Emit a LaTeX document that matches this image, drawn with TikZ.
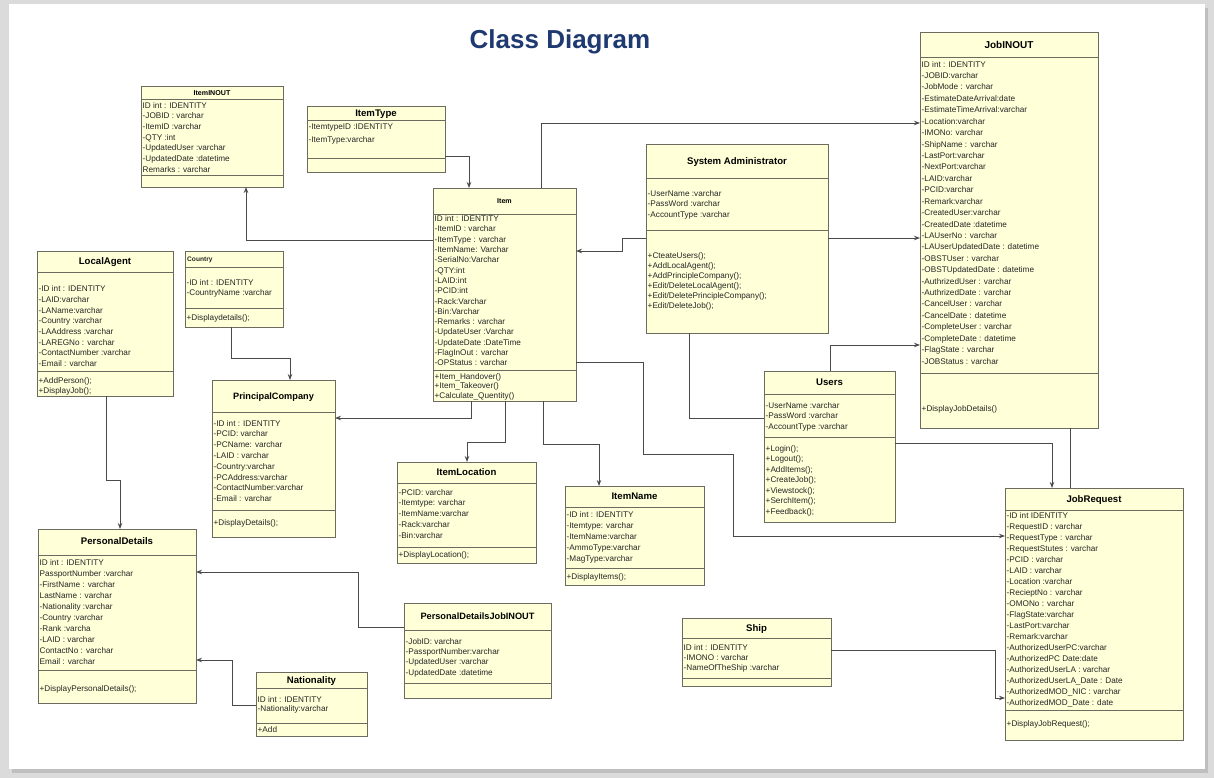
\documentclass[tikz,border=0pt]{standalone}
\usepackage{fontspec}
\setmainfont{Liberation Sans}
\usetikzlibrary{arrows.meta}
\definecolor{boxfill}{HTML}{FFFFD8}
\definecolor{boxline}{HTML}{6B6B60}
\definecolor{connc}{HTML}{4A4A4A}
\definecolor{ttlblue}{HTML}{1F3A70}
\tikzset{
 cls/.style={draw=boxline, fill=boxfill, line width=0.9pt, anchor=north west, inner sep=0pt, outer sep=0pt},
 clsline/.style={draw=boxline, line width=0.9pt},
 attr/.style={anchor=north west, align=left, inner sep=0pt, text=black!85},
 ttl/.style={anchor=base, inner sep=0pt},
 link/.style={draw=connc, line width=0.9pt},
 arr/.style={link, -{Stealth[length=6pt,width=4.5pt]}},
}
\newcommand{\umlbox}[6]{%
 \node[cls, minimum width=#4-#2, minimum height=#5-#3] (#1) at (#2,#3) {};
 \draw[clsline] (#1.west |- 0,#6) -- (#1.east |- 0,#6);}
\newcommand{\umlsep}[2]{\draw[clsline] (#1.west |- 0,#2) -- (#1.east |- 0,#2);}
\newcommand{\umltext}[5]{%
 \node[attr, font=\fontsize{8.2}{#4}\selectfont] (#1) at (#2+1.5,#3-3) {#5};}
\newcommand{\umltitle}[5]{%
 \node[ttl, font=\bfseries\fontsize{#4}{#4}\selectfont] (#1) at (#2,#3+0.36*#4) {#5};}
\begin{document}
\begin{tikzpicture}[x=1pt,y=-1pt]
\useasboundingbox (0,0) rectangle (1214,778);
\fill[gray!28] (0,0) rectangle (1214,778);
\fill[gray!50] (12,8) rectangle (1208,773);
\fill[white] (9,4) rectangle (1205,769);
\node[ttl, font=\bfseries\fontsize{26}{26}\selectfont, text=ttlblue] (title) at (560,40+9) {Class Diagram};

% ItemINOUT
\umlbox{iteminout}{141}{86}{283}{187}{99}
\umlsep{iteminout}{175}
\umltitle{iteminout-t}{212}{92.5}{7.1}{ItemINOUT}
\umltext{iteminout-a}{141}{105}{10.7}{ID int : IDENTITY\\-JOBID : varchar\\-ItemID :varchar\\-QTY :int\\-UpdatedUser :varchar\\-UpdatedDate :datetime\\Remarks : varchar}

% ItemType
\umlbox{itemtype}{307}{106}{445}{172}{120}
\umlsep{itemtype}{158}
\umltitle{itemtype-t}{376}{113}{9.6}{ItemType}
\umltext{itemtype-a}{307}{127}{12.5}{-ItemtypeID :IDENTITY\\-ItemType:varchar}

% Item
\umlbox{item}{433}{188}{576}{401}{214}
\umlsep{item}{370}
\umltitle{item-t}{504.5}{201}{7.1}{Item}
\umltext{item-a}{433}{218.5}{10.3}{ID int : IDENTITY\\-ItemID : varchar\\-ItemType : varchar\\-ItemName: Varchar\\-SerialNo:Varchar\\-QTY:int\\-LAID:int\\-PCID:int\\-Rack:Varchar\\-Bin:Varchar\\-Remarks : varchar\\-UpdateUser :Varchar\\-UpdateDate :DateTime\\-FlagInOut : varchar\\-OPStatus : varchar}
\umltext{item-m}{433}{376}{9.7}{+Item\_Handover()\\+Item\_Takeover()\\+Calculate\_Quentity()}

% System Administrator
\umlbox{sysadm}{646}{144}{828}{333}{178}
\umlsep{sysadm}{230}
\umltitle{sysadm-t}{737}{161}{9.6}{System Administrator}
\umltext{sysadm-a}{646}{193}{10.5}{-UserName :varchar\\-PassWord :varchar\\-AccountType :varchar}
\umltext{sysadm-m}{646}{255}{10}{+CteateUsers();\\+AddLocalAgent();\\+AddPrincipleCompany();\\+Edit/DeleteLocalAgent();\\+Edit/DeletePrincipleCompany();\\+Edit/DeleteJob();}

% JobINOUT
\umlbox{jobinout}{920}{32}{1098}{428}{57}
\umlsep{jobinout}{373}
\umltitle{jobinout-t}{1009}{44.5}{10}{JobINOUT}
\umltext{jobinout-a}{920}{64}{11.42}{ID int : IDENTITY\\-JOBID:varchar\\-JobMode : varchar\\-EstimateDateArrival:date\\-EstimateTimeArrival:varchar\\-Location:varchar\\-IMONo: varchar\\-ShipName : varchar\\-LastPort:varchar\\-NextPort:varchar\\-LAID:varchar\\-PCID:varchar\\-Remark:varchar\\-CreatedUser:varchar\\-CreatedDate :datetime\\-LAUserNo : varchar\\-LAUserUpdatedDate : datetime\\-OBSTUser : varchar\\-OBSTUpdatedDate : datetime\\-AuthrizedUser : varchar\\-AuthrizedDate : varchar\\-CancelUser : varchar\\-CancelDate : datetime\\-CompleteUser : varchar\\-CompleteDate : datetime\\-FlagState : varchar\\-JOBStatus : varchar}
\umltext{jobinout-m}{920}{408}{10}{+DisplayJobDetails()}

% LocalAgent
\umlbox{localagent}{37}{251}{173}{396}{272}
\umlsep{localagent}{371}
\umltitle{localagent-t}{105}{261}{9.6}{LocalAgent}
\umltext{localagent-a}{37}{288.5}{10.7}{-ID int : IDENTITY\\-LAID:varchar\\-LAName:varchar\\-Country :varchar\\-LAAddress :varchar\\-LAREGNo : varchar\\-ContactNumber :varchar\\-Email : varchar}
\umltext{localagent-m}{37}{380}{10}{+AddPerson();\\+DisplayJob();}

% Country
\umlbox{country}{185}{251}{283}{327}{267}
\umlsep{country}{308}
\node[attr, anchor=base west, font=\bfseries\fontsize{6.6}{7}\selectfont] (country-t) at (187,259+2.4) {Country};
\umltext{country-a}{185}{282}{10.3}{-ID int : IDENTITY\\-CountryName :varchar}
\umltext{country-m}{185}{317}{10}{+Displaydetails();}

% PrincipalCompany
\umlbox{pc}{212}{380}{335}{537}{412}
\umlsep{pc}{510}
\umltitle{pc-t}{273.5}{396}{9.2}{PrincipalCompany}
\umltext{pc-a}{212}{423}{10.8}{-ID int : IDENTITY\\-PCID: varchar\\-PCName: varchar\\-LAID : varchar\\-Country:varchar\\-PCAddress:varchar\\-ContactNumber:varchar\\-Email : varchar}
\umltext{pc-m}{212}{522}{10}{+DisplayDetails();}

% ItemLocation
\umlbox{itemloc}{397}{462}{536}{563}{483}
\umlsep{itemloc}{547}
\umltitle{itemloc-t}{466.5}{472.5}{9.6}{ItemLocation}
\umltext{itemloc-a}{397}{492}{10.8}{-PCID: varchar\\-Itemtype: varchar\\-ItemName:varchar\\-Rack:varchar\\-Bin:varchar}
\umltext{itemloc-m}{397}{554}{10}{+DisplayLocation();}

% ItemName
\umlbox{itemname}{565}{486}{704}{585}{507}
\umlsep{itemname}{568}
\umltitle{itemname-t}{634.5}{496.5}{9.6}{ItemName}
\umltext{itemname-a}{565}{514}{11}{-ID int : IDENTITY\\-Itemtype: varchar\\-ItemName:varchar\\-AmmoType:varchar\\-MagType:varchar}
\umltext{itemname-m}{565}{576}{10}{+DisplayItems();}

% Users
\umlbox{users}{764}{371}{895}{522}{394}
\umlsep{users}{437}
\umltitle{users-t}{829.5}{382.5}{9.6}{Users}
\umltext{users-a}{764}{405}{10.8}{-UserName :varchar\\-PassWord :varchar\\-AccountType :varchar}
\umltext{users-m}{764}{448}{10.5}{+Login();\\+Logout();\\+AddItems();\\+CreateJob();\\+Viewstock();\\+SerchItem();\\+Feedback();}

% JobRequest
\umlbox{jobreq}{1005}{488}{1183}{740}{510}
\umlsep{jobreq}{710}
\umltitle{jobreq-t}{1094}{499}{9.6}{JobRequest}
\umltext{jobreq-a}{1005}{515}{11}{-ID int IDENTITY\\-RequestID : varchar\\-RequestType : varchar\\-RequestStutes : varchar\\-PCID : varchar\\-LAID : varchar\\-Location :varchar\\-RecieptNo : varchar\\-OMONo : varchar\\-FlagState:varchar\\-LastPort:varchar\\-Remark:varchar\\-AuthorizedUserPC:varchar\\-AuthorizedPC Date:date\\-AuthorizedUserLA : varchar\\-AuthorizedUserLA\_Date : Date\\-AuthorizedMOD\_NIC : varchar\\-AuthorizedMOD\_Date : date}
\umltext{jobreq-m}{1005}{723}{10}{+DisplayJobRequest();}

% PersonalDetails
\umlbox{pd}{38}{529}{196}{703}{555}
\umlsep{pd}{670}
\umltitle{pd-t}{117}{541.5}{9.6}{PersonalDetails}
\umltext{pd-a}{38}{562}{11}{ID int : IDENTITY\\PassportNumber :varchar\\-FirstName : varchar\\LastName : varchar\\-Nationality :varchar\\-Country :varchar\\-Rank :varcha\\-LAID : varchar\\ContactNo : varchar\\Email : varchar}
\umltext{pd-m}{38}{688}{10}{+DisplayPersonalDetails();}

% PersonalDetailsJobINOUT
\umlbox{pdj}{404}{603}{551}{698}{630}
\umlsep{pdj}{683}
\umltitle{pdj-t}{477.5}{616}{9.2}{PersonalDetailsJobINOUT}
\umltext{pdj-a}{404}{641}{10.3}{-JobID: varchar\\-PassportNumber:varchar\\-UpdatedUser :varchar\\-UpdatedDate :datetime}

% Nationality
\umlbox{nat}{256}{672}{367}{736}{688}
\umlsep{nat}{723}
\umltitle{nat-t}{311.5}{680}{9.6}{Nationality}
\umltext{nat-a}{256}{699}{9.5}{ID int : IDENTITY\\-Nationality:varchar}
\umltext{nat-m}{256}{729}{10}{+Add}

% Ship
\umlbox{ship}{682}{618}{831}{686}{638}
\umlsep{ship}{678}
\umltitle{ship-t}{756.5}{628}{9.6}{Ship}
\umltext{ship-a}{682}{647}{10}{ID int : IDENTITY\\-IMONO : varchar\\-NameOfTheShip :varchar}

% connectors
\draw[arr] (itemtype.east |- 0,156) -| (469,0 |- item.north);
\draw[arr] (item.west |- 0,240) -| (246,0 |- iteminout.south);
\draw[arr] (541,0 |- item.north) |- (jobinout.west |- 0,123);
\draw[arr] (sysadm.west |- 0,238) -- (622,238) |- (item.east |- 0,251);
\draw[arr] (sysadm.east |- 0,238) -- (jobinout.west |- 0,238);
\draw[arr] (830,0 |- users.north) |- (jobinout.west |- 0,345);
\draw[arr] (471,0 |- item.south) |- (pc.east |- 0,418);
\draw[arr] (505,0 |- item.south) -- (505,442) -| (467,0 |- itemloc.north);
\draw[arr] (543,0 |- item.south) -- (543,444) -| (599,0 |- itemname.north);
\draw[arr] (item.east |- 0,362) -| (643,454) -| (733,536) -- (jobreq.west |- 0,536);
\draw[link] (689,0 |- sysadm.south) |- (users.west |- 0,418);
\draw[arr] (users.east |- 0,443) -| (1052,0 |- jobreq.north);
\draw[link] (1070,0 |- jobinout.south) -- (1070,0 |- jobreq.north);
\draw[arr] (ship.east |- 0,650) -| (995,698) -- (jobreq.west |- 0,698);
\draw[arr] (231,0 |- country.south) |- (290,358) -- (290,0 |- pc.north);
\draw[arr] (106,0 |- localagent.south) |- (120,480) -- (120,0 |- pd.north);
\draw[arr] (pdj.west |- 0,627) -| (358,572) -- (pd.east |- 0,572);
\draw[arr] (nat.west |- 0,705) -| (232,660) -- (pd.east |- 0,660);
\end{tikzpicture}
\end{document}
